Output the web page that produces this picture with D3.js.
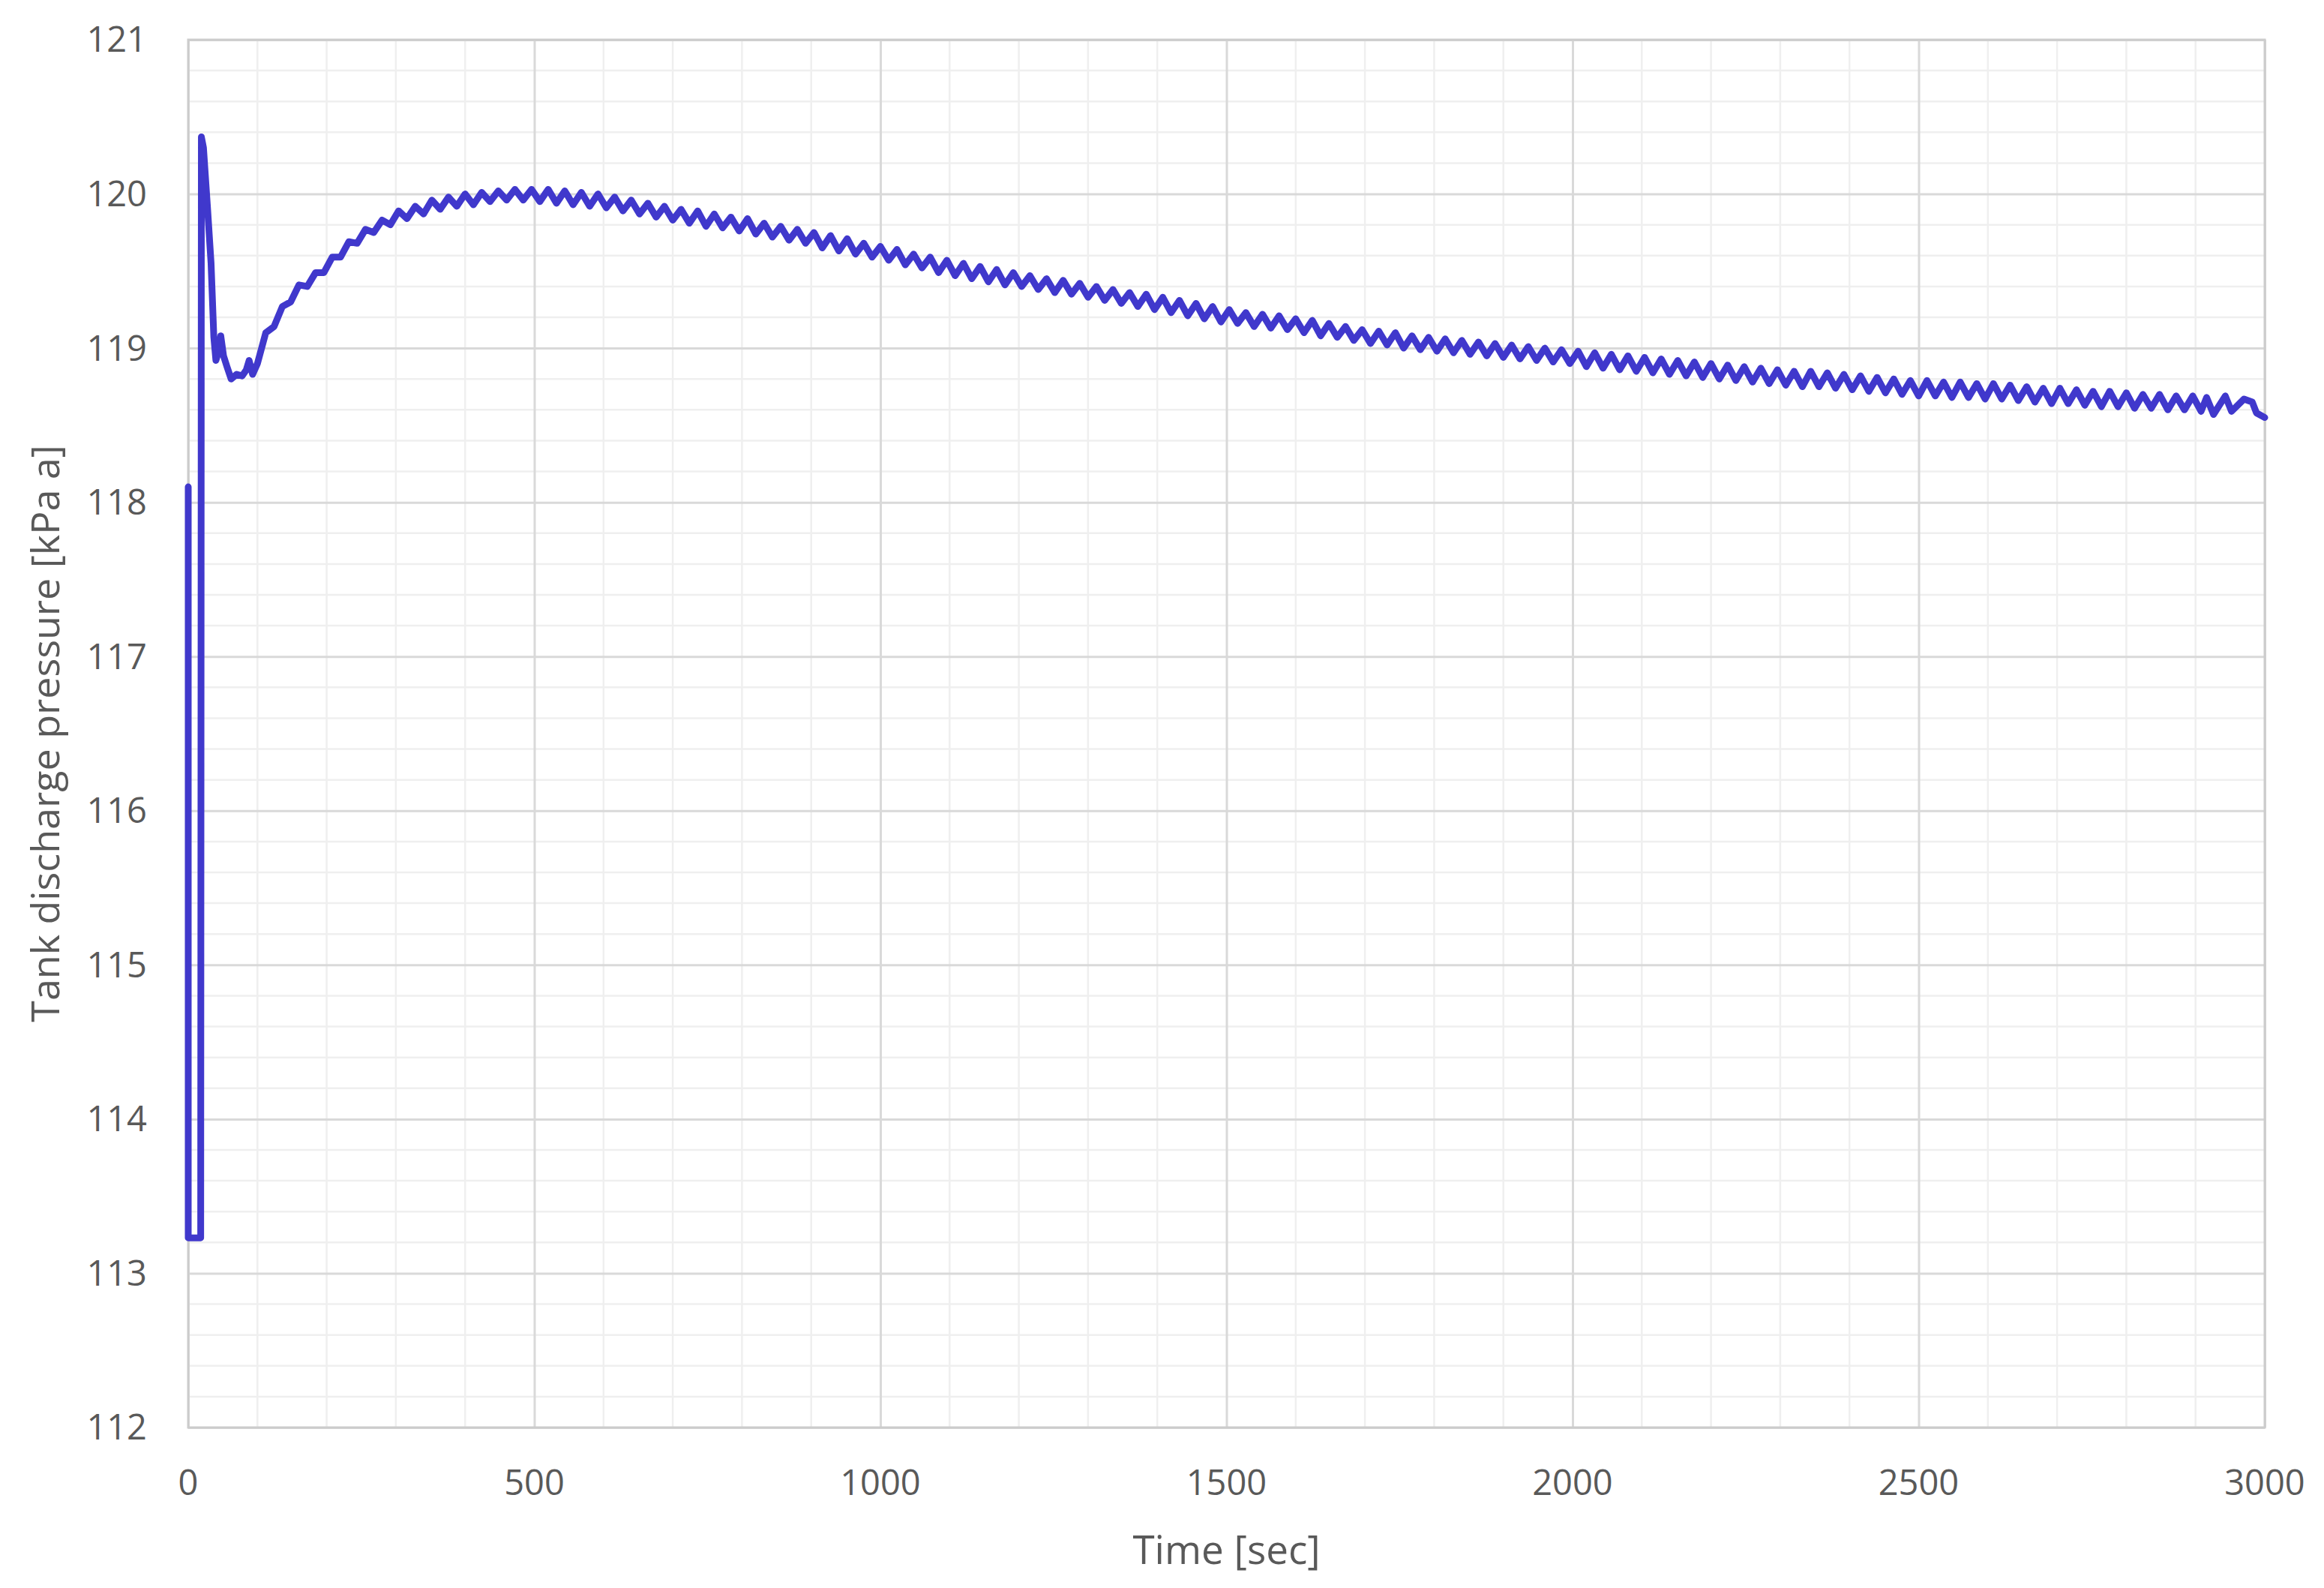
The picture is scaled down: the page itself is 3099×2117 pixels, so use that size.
<!DOCTYPE html>
<html>

<head>
	<title>Tank discharge pressure</title>
	<script src="https://cdn.jsdelivr.net/npm/d3@7/dist/d3.min.js"></script>
	<style>
		body {
			margin: 0;
			background: #fff;
		}

		text {
			font-family: "Open Sans", sans-serif;
			fill: #595959;
		}
	</style>
</head>

<body>
	<svg id="chart" width="3099" height="2117"></svg>

	<script>
		// tick labels
		var xTicks = [0, 500, 1000, 1500, 2000, 2500, 3000];
		var yTicks = [112, 113, 114, 115, 116, 117, 118, 119, 120, 121];

		// start-up transient
		var startTime = [0, 0, 18, 19, 22, 28, 33, 37, 40, 44, 47, 51, 56, 62, 70, 78, 84, 88, 93];
		var startPressure = [118.10, 113.23, 113.23, 120.37, 120.30, 119.90, 119.55, 119.07, 118.92, 118.98,
			119.08, 118.95, 118.88, 118.80, 118.83, 118.82, 118.86, 118.92, 118.83];

		// oscillating part: alternating troughs / peaks
		var cycleTime = [100, 112, 124, 136, 148, 160, 172, 184, 196, 208, 220, 232, 244, 256, 268, 280, 292,
			304, 316, 328, 340, 352, 364, 376, 388, 400, 412, 424, 436, 448, 460, 472, 484, 496,
			508, 520, 532, 544, 556, 568, 580, 592, 604, 616, 628, 640, 652, 664, 676, 688, 700,
			712, 724, 736, 748, 760, 772, 784, 796, 808, 820, 832, 844, 856, 868, 880, 892,
			904, 916, 928, 940, 952, 964, 976, 988, 1000, 1012, 1024, 1036, 1048, 1060, 1072, 1084, 1096,
			1108, 1120, 1132, 1144, 1156, 1168, 1180, 1192, 1204, 1216, 1228, 1240, 1252, 1264, 1276, 1288, 1300,
			1312, 1324, 1336, 1348, 1360, 1372, 1384, 1396, 1408, 1420, 1432, 1444, 1456, 1468, 1480, 1492,
			1504, 1516, 1528, 1540, 1552, 1564, 1576, 1588, 1600, 1612, 1624, 1636, 1648, 1660, 1672, 1684, 1696,
			1708, 1720, 1732, 1744, 1756, 1768, 1780, 1792, 1804, 1816, 1828, 1840, 1852, 1864, 1876, 1888, 1900,
			1912, 1924, 1936, 1948, 1960, 1972, 1984, 1996, 2008, 2020, 2032, 2044, 2056, 2068, 2080, 2092,
			2104, 2116, 2128, 2140, 2152, 2164, 2176, 2188, 2200, 2212, 2224, 2236, 2248, 2260, 2272, 2284, 2296,
			2308, 2320, 2332, 2344, 2356, 2368, 2380, 2392, 2404, 2416, 2428, 2440, 2452, 2464, 2476, 2488, 2500,
			2512, 2524, 2536, 2548, 2560, 2572, 2584, 2596, 2608, 2620, 2632, 2644, 2656, 2668, 2680, 2692,
			2704, 2716, 2728, 2740, 2752, 2764, 2776, 2788, 2800, 2812, 2824, 2836, 2848, 2860, 2872, 2884, 2896,
			2908];
		var cyclePressure = [118.90, 119.10, 119.14, 119.27, 119.30, 119.41, 119.40, 119.49, 119.49, 119.59,
			119.59, 119.69, 119.68, 119.77, 119.75, 119.83, 119.80,
			119.89, 119.84, 119.92, 119.87, 119.96, 119.90, 119.98, 119.92, 120.00, 119.93, 120.01, 119.95,
			120.02, 119.96, 120.03, 119.96, 120.03,
			119.95, 120.03, 119.94, 120.02, 119.93, 120.01, 119.92, 120.00, 119.91, 119.98, 119.89, 119.96,
			119.87, 119.94, 119.85, 119.92, 119.83,
			119.90, 119.81, 119.89, 119.79, 119.87, 119.78, 119.85, 119.76, 119.84, 119.74, 119.81, 119.72,
			119.79, 119.70, 119.77, 119.68,
			119.75, 119.65, 119.73, 119.63, 119.71, 119.61, 119.68, 119.59, 119.66, 119.57, 119.64, 119.54,
			119.61, 119.52, 119.59, 119.49, 119.57,
			119.47, 119.55, 119.45, 119.53, 119.43, 119.51, 119.41, 119.49, 119.40, 119.47, 119.38, 119.45,
			119.36, 119.44, 119.35, 119.42, 119.33,
			119.40, 119.31, 119.38, 119.29, 119.36, 119.27, 119.35, 119.25, 119.33, 119.23, 119.31, 119.21,
			119.29, 119.19, 119.27, 119.17,
			119.25, 119.16, 119.23, 119.14, 119.22, 119.13, 119.21, 119.12, 119.19, 119.10, 119.18, 119.08,
			119.16, 119.07, 119.14, 119.05, 119.12,
			119.03, 119.11, 119.02, 119.10, 119.00, 119.08, 118.99, 119.07, 118.98, 119.06, 118.97, 119.05,
			118.96, 119.04, 118.95, 119.03, 118.94,
			119.02, 118.93, 119.01, 118.92, 119.00, 118.91, 118.99, 118.90, 118.98, 118.88, 118.97, 118.87,
			118.96, 118.86, 118.95, 118.85,
			118.94, 118.84, 118.93, 118.83, 118.92, 118.82, 118.91, 118.81, 118.90, 118.80, 118.89, 118.79,
			118.88, 118.78, 118.87, 118.77, 118.86,
			118.76, 118.85, 118.75, 118.85, 118.75, 118.84, 118.74, 118.83, 118.73, 118.82, 118.72, 118.81,
			118.71, 118.80, 118.70, 118.79, 118.69,
			118.79, 118.69, 118.78, 118.68, 118.78, 118.68, 118.77, 118.67, 118.77, 118.67, 118.76, 118.66,
			118.75, 118.65, 118.74, 118.64,
			118.74, 118.64, 118.73, 118.63, 118.72, 118.62, 118.72, 118.62, 118.71, 118.61, 118.70, 118.61,
			118.70, 118.60, 118.69, 118.60, 118.69,
			118.59];

		// last minute before the end of the run
		var endTime = [2916, 2926, 2943, 2952, 2970, 2982, 2988, 3000];
		var endPressure = [118.68, 118.57, 118.69, 118.59, 118.67, 118.65, 118.58, 118.55];

		var times = startTime.concat(cycleTime, endTime);
		var pressures = startPressure.concat(cyclePressure, endPressure);
		var data = times.map((t, i) => ({ t: t, p: pressures[i] }));

		var svg = d3.select('#chart'),
			margin = { top: 53, right: 79, bottom: 214, left: 251 },
			width = +svg.attr('width') - margin.left - margin.right,
			height = +svg.attr('height') - margin.top - margin.bottom;

		var x = d3.scaleLinear()
			.domain([0, 3000])
			.range([0, width]);

		var y = d3.scaleLinear()
			.domain([112, 121])
			.range([height, 0]);

		var g = svg.append('g')
			.attr('transform', 'translate(' + margin.left + ',' + margin.top + ')');

		// minor grid
		g.append('g')
			.selectAll('line')
			.data(d3.range(100, 3000, 100).filter(d => d % 500 != 0))
			.enter()
			.append('line')
			.attr('x1', d => x(d)).attr('x2', d => x(d))
			.attr('y1', 0).attr('y2', height)
			.attr('stroke', '#efefef')
			.attr('stroke-width', 2.5);

		g.append('g')
			.selectAll('line')
			.data(d3.range(1, 45).map(i => 112 + i * 0.2).filter((d, i) => (i + 1) % 5 != 0))
			.enter()
			.append('line')
			.attr('x1', 0).attr('x2', width)
			.attr('y1', d => y(d)).attr('y2', d => y(d))
			.attr('stroke', '#efefef')
			.attr('stroke-width', 2.5);

		// major grid
		g.append('g')
			.call(d3.axisBottom(x).tickValues(xTicks).tickSize(-height).tickFormat(''))
			.attr('transform', 'translate(0,' + height + ')')
			.call(a => a.select('.domain').remove())
			.call(a => a.selectAll('line').attr('stroke', '#d9d9d9').attr('stroke-width', 3));

		g.append('g')
			.call(d3.axisLeft(y).tickValues(yTicks).tickSize(-width).tickFormat(''))
			.call(a => a.select('.domain').remove())
			.call(a => a.selectAll('line').attr('stroke', '#d9d9d9').attr('stroke-width', 3));

		// plot frame
		g.append('rect')
			.attr('width', width)
			.attr('height', height)
			.attr('fill', 'none')
			.attr('stroke', '#cccccc')
			.attr('stroke-width', 3);

		// tick labels
		g.append('g')
			.selectAll('text')
			.data(yTicks)
			.enter()
			.append('text')
			.attr('x', -55)
			.attr('y', d => y(d))
			.attr('dy', '0.35em')
			.attr('text-anchor', 'end')
			.style('font-size', '47px')
			.text(d => d);

		g.append('g')
			.selectAll('text')
			.data(xTicks)
			.enter()
			.append('text')
			.attr('x', d => x(d))
			.attr('y', height + 90)
			.attr('text-anchor', 'middle')
			.style('font-size', '47px')
			.text(d => d);

		// axis titles
		g.append('text')
			.attr('x', width / 2)
			.attr('y', height + 182)
			.attr('text-anchor', 'middle')
			.style('font-size', '53px')
			.text('Time [sec]');

		g.append('text')
			.attr('transform', 'translate(' + (-172) + ',' + (height / 2) + ') rotate(-90)')
			.attr('text-anchor', 'middle')
			.style('font-size', '52px')
			.text('Tank discharge pressure [kPa a]');

		// the series
		var line = d3.line()
			.x(d => x(d.t))
			.y(d => y(d.p));

		g.append('path')
			.datum(data)
			.attr('fill', 'none')
			.attr('stroke', '#4038cc')
			.attr('stroke-width', 9)
			.attr('stroke-linejoin', 'round')
			.attr('stroke-linecap', 'round')
			.attr('d', line);
	</script>
</body>

</html>
